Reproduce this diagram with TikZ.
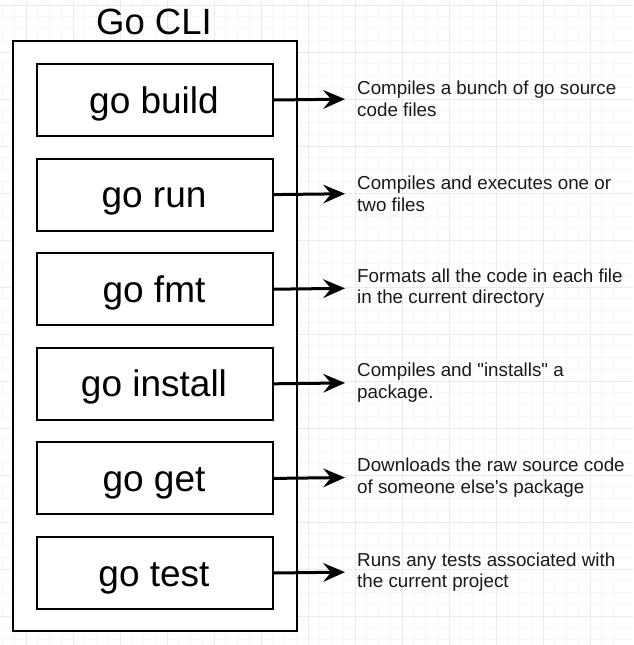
\documentclass[tikz,border=0pt]{standalone}
\usepackage{fontspec}
\newfontfamily\arialf{Liberation Sans}
\usetikzlibrary{arrows.meta}
\definecolor{gridmajor}{HTML}{EBEBEB}
\definecolor{gridminor}{HTML}{F6F6F6}
\definecolor{desctext}{HTML}{1A1A1A}
\begin{document}
\begin{tikzpicture}[x=1pt,y=-1pt,
  cmdbox/.style={draw=black,line width=2pt,fill=white,minimum width=236pt,minimum height=72pt,inner sep=0pt,anchor=north west},
  cmdtext/.style={font=\arialf\fontsize{37}{40}\selectfont,text=black},
  desc/.style={font=\arialf\fontsize{18.8}{21.7}\selectfont,text=desctext,align=left,anchor=west,inner sep=0pt},
  arr/.style={line width=3pt,-{Stealth[length=22pt,width=19pt,inset=8pt,line width=0pt]},shorten >=12pt},
]
\useasboundingbox (0,0) rectangle (633,645);
\fill[white] (0,0) rectangle (633,645);
% grid
\foreach \i in {0,...,54} {
  \draw[gridminor,line width=0.6pt] ({-21+\i*11.75},0) -- ({-21+\i*11.75},645);
}
\foreach \i in {0,...,55} {
  \draw[gridminor,line width=0.6pt] (0,{5+\i*11.75-11.75}) -- (633,{5+\i*11.75-11.75});
}
\foreach \i in {0,...,12} {
  \draw[gridmajor,line width=0.8pt] ({26+\i*47},0) -- ({26+\i*47},645);
}
\foreach \i in {0,...,13} {
  \draw[gridmajor,line width=0.8pt] (0,{5+\i*47}) -- (633,{5+\i*47});
}
% outer box
\node[draw=black,line width=2pt,fill=white,minimum width=284pt,minimum height=590pt,inner sep=0pt,anchor=north west] (cli) at (12,40) {};
\node[font=\arialf\fontsize{36.5}{40}\selectfont,anchor=base] (title) at (154,34) {Go CLI};
% command boxes
\node[cmdbox] (b1) at (36,63) {};
\node[cmdbox] (b2) at (36,157.6) {};
\node[cmdbox] (b3) at (36,252.2) {};
\node[cmdbox] (b4) at (36,346.8) {};
\node[cmdbox] (b5) at (36,441.4) {};
\node[cmdbox] (b6) at (36,536) {};
\node[cmdtext,anchor=base] (t1) at (154,113) {go build};
\node[cmdtext,anchor=base] (t2) at (154,207.6) {go run};
\node[cmdtext,anchor=base] (t3) at (154,302.2) {go fmt};
\node[cmdtext,anchor=base] (t4) at (154,396.8) {go install};
\node[cmdtext,anchor=base] (t5) at (154,491.4) {go get};
\node[cmdtext,anchor=base] (t6) at (154,586) {go test};
% descriptions
\node[desc] (d1) at (357,99) {Compiles a bunch of go source\\code files};
\node[desc] (d2) at (357,193.6) {Compiles and executes one or\\two files};
\node[desc] (d3) at (357,288.2) {Formats all the code in each file\\in the current directory};
\node[desc] (d4) at (357,382.8) {Compiles and "installs" a\\package.};
\node[desc] (d5) at (357,477.4) {Downloads the raw source code\\of someone else's package};
\node[desc] (d6) at (357,572) {Runs any tests associated with\\the current project};
% arrows
\draw[arr] (b1.east) -- (d1.west);
\draw[arr] (b2.east) -- (d2.west);
\draw[arr] (b3.east) -- (d3.west);
\draw[arr] (b4.east) -- (d4.west);
\draw[arr] (b5.east) -- (d5.west);
\draw[arr] (b6.east) -- (d6.west);
\end{tikzpicture}
\end{document}
